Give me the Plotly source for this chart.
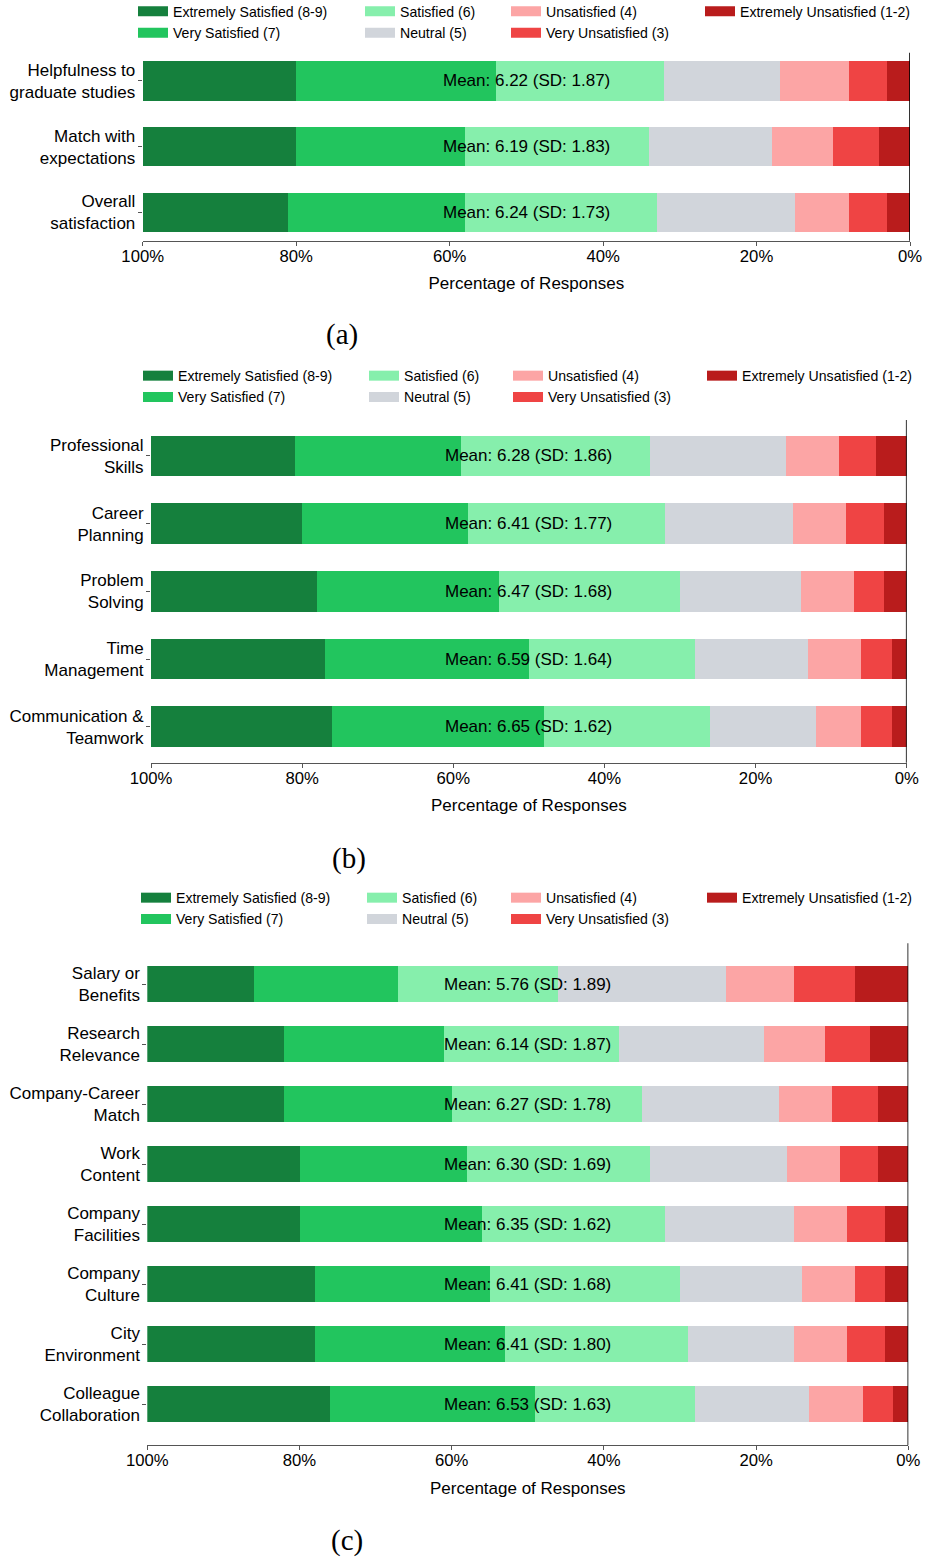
import plotly.graph_objects as go

W, H = 927, 1558
FONT = "Liberation Sans, Arial, Helvetica, sans-serif"
SERIF = "Liberation Serif, Times New Roman, serif"

# ---------------- data ----------------
LEVELS = ["Extremely Unsatisfied (1-2)", "Very Unsatisfied (3)", "Unsatisfied (4)",
          "Neutral (5)", "Satisfied (6)", "Very Satisfied (7)", "Extremely Satisfied (8-9)"]
COLORS = ["#b91c1c", "#ef4444", "#fca5a5", "#d1d5db", "#86efac", "#22c55e", "#15803d"]
TICK_VALS = [0, 20, 40, 60, 80, 100]
TICK_TEXT = ["0%", "20%", "40%", "60%", "80%", "100%"]

# Panel (a)
A_LABELS = ["Helpfulness to<br>graduate studies", "Match with<br>expectations", "Overall<br>satisfaction"]
A_EU = [3, 4, 3]
A_VU = [5, 6, 5]
A_U = [9, 8, 7]
A_N = [15, 16, 18]
A_S = [22, 24, 25]
A_VS = [26, 22, 23]
A_ES = [20, 20, 19]
A_MEAN = [6.22, 6.19, 6.24]
A_SD = [1.87, 1.83, 1.73]

# Panel (b)
B_LABELS = ["Professional<br>Skills", "Career<br>Planning", "Problem<br>Solving",
            "Time<br>Management", "Communication &<br>Teamwork"]
B_EU = [4, 3, 3, 2, 2]
B_VU = [5, 5, 4, 4, 4]
B_U = [7, 7, 7, 7, 6]
B_N = [18, 17, 16, 15, 14]
B_S = [25, 26, 24, 22, 22]
B_VS = [22, 22, 24, 27, 28]
B_ES = [19, 20, 22, 23, 24]
B_MEAN = [6.28, 6.41, 6.47, 6.59, 6.65]
B_SD = [1.86, 1.77, 1.68, 1.64, 1.62]

# Panel (c)
C_LABELS = ["Salary or<br>Benefits", "Research<br>Relevance", "Company-Career<br>Match",
            "Work<br>Content", "Company<br>Facilities", "Company<br>Culture",
            "City<br>Environment", "Colleague<br>Collaboration"]
C_EU = [7, 5, 4, 4, 3, 3, 3, 2]
C_VU = [8, 6, 6, 5, 5, 4, 5, 4]
C_U = [9, 8, 7, 7, 7, 7, 7, 7]
C_N = [22, 19, 18, 18, 17, 16, 14, 15]
C_S = [21, 23, 25, 24, 24, 25, 24, 21]
C_VS = [19, 21, 22, 22, 24, 23, 25, 27]
C_ES = [14, 18, 18, 20, 20, 22, 22, 24]
C_MEAN = [5.76, 6.14, 6.27, 6.30, 6.35, 6.41, 6.41, 6.53]
C_SD = [1.89, 1.87, 1.78, 1.69, 1.62, 1.68, 1.80, 1.63]

CAPTIONS = ["(a)", "(b)", "(c)"]

# ---------------- layout geometry (pixels) ----------------
PANELS = [
    dict(labels=A_LABELS, series=[A_EU, A_VU, A_U, A_N, A_S, A_VS, A_ES], mean=A_MEAN, sd=A_SD,
         x=(142.7, 910.0), y=(52.7, 240.7), leg_x=[136, 363, 509, 703], leg_y=10.7, cap=(341.5, 335)),
    dict(labels=B_LABELS, series=[B_EU, B_VU, B_U, B_N, B_S, B_VS, B_ES], mean=B_MEAN, sd=B_SD,
         x=(151.0, 906.7), y=(420.0, 762.7), leg_x=[141, 367, 511, 705], leg_y=375, cap=(349, 858)),
    dict(labels=C_LABELS, series=[C_EU, C_VU, C_U, C_N, C_S, C_VS, C_ES], mean=C_MEAN, sd=C_SD,
         x=(147.3, 908.3), y=(943.3, 1445.3), leg_x=[139, 365, 509, 705], leg_y=897, cap=(346.5, 1540)),
]

# legend column / rank for each level index
LEG_COL = {6: (0, 1), 5: (0, 2), 4: (1, 1), 3: (1, 2), 2: (2, 1), 1: (2, 2), 0: (3, 1)}

fig = go.Figure()
layout = dict(
    width=W, height=H,
    margin=dict(l=0, r=0, t=0, b=0, pad=0, autoexpand=False),
    paper_bgcolor="white", plot_bgcolor="white",
    barmode="stack", bargap=0.4,
    font=dict(family=FONT, size=17, color="black"),
    showlegend=True,
)
shapes, annotations = [], []

for p, P in enumerate(PANELS):
    sfx = "" if p == 0 else str(p + 1)
    xa, ya = "x" + sfx, "y" + sfx
    n = len(P["labels"])
    m = 0.05 * (n - 1 + 0.6)
    for i, vals in enumerate(P["series"]):
        fig.add_trace(go.Bar(
            x=vals, y=P["labels"], orientation="h", width=0.6,
            marker=dict(color=COLORS[i], line=dict(width=0)),
            name=LEVELS[i], showlegend=False, xaxis=xa, yaxis=ya,
            hovertemplate="%{y}: %{x}%<extra>" + LEVELS[i] + "</extra>"))
    # legend entries (4 columns)
    for i in [6, 5, 4, 3, 2, 1, 0]:
        col, rank = LEG_COL[i]
        lname = "legend" + ("" if (p * 4 + col) == 0 else str(p * 4 + col + 1))
        fig.add_trace(go.Scatter(
            x=[None], y=[None], mode="lines", line=dict(color=COLORS[i], width=10),
            name=LEVELS[i], legend=lname, legendrank=rank, xaxis=xa, yaxis=ya,
            hoverinfo="skip", showlegend=True))
    for col in range(4):
        key = "legend" + ("" if (p * 4 + col) == 0 else str(p * 4 + col + 1))
        layout[key] = dict(
            x=(P["leg_x"][col] - 3) / W, xanchor="left",
            y=1 - (P["leg_y"] - 15) / H, yanchor="top",
            orientation="v", traceorder="normal", itemwidth=30,
            bgcolor="rgba(0,0,0,0)", borderwidth=0,
            font=dict(family=FONT, size=14.1, color="black"),
            tracegroupgap=0, itemclick=False, itemdoubleclick=False)

    layout["xaxis" + sfx] = dict(
        domain=[P["x"][0] / W, P["x"][1] / W], anchor=ya, automargin=False,
        range=[100, 0], tickvals=TICK_VALS, ticktext=TICK_TEXT,
        showline=True, linecolor="#555555", linewidth=1.2,
        ticks="outside", ticklen=4, tickcolor="#555555", tickwidth=1.2,
        ticklabelstandoff=-4,
        showgrid=False, zeroline=False, tickfont=dict(size=16.7),
        title=dict(text="Percentage of Responses", font=dict(size=17), standoff=12),
        fixedrange=True)
    layout["yaxis" + sfx] = dict(
        domain=[1 - P["y"][1] / H, 1 - P["y"][0] / H], anchor=xa, automargin=False,
        type="category", categoryorder="array", categoryarray=P["labels"],
        range=[n - 1 + 0.3 + m, -0.3 - m],
        showline=False, showgrid=False, zeroline=False,
        ticks="outside", ticklen=4, tickcolor="#555555", tickwidth=1,
        ticklabelstandoff=-1,
        tickfont=dict(size=17), fixedrange=True)
    # right spine at 0%
    shapes.append(dict(type="line", xref=xa, yref=ya + " domain", x0=0, x1=0, y0=0, y1=1,
                       line=dict(color="black", width=1.6)))
    # mean / sd labels
    for lab, mu, sd in zip(P["labels"], P["mean"], P["sd"]):
        annotations.append(dict(xref=xa, yref=ya, x=50, y=lab, showarrow=False,
                                text=f"Mean: {mu:.2f} (SD: {sd:.2f})",
                                font=dict(size=17, color="black")))
    # caption
    annotations.append(dict(xref="paper", yref="paper", x=P["cap"][0] / W, y=1 - P["cap"][1] / H,
                            xanchor="center", yanchor="middle", showarrow=False,
                            text=CAPTIONS[p], font=dict(family=SERIF, size=29, color="black")))

layout["shapes"] = shapes
layout["annotations"] = annotations
fig.update_layout(**layout)
fig.write_html("out.html",
               config={"displayModeBar": False, "responsive": False},
               post_script="document.body.style.margin='0px';document.body.style.overflow='hidden';")
